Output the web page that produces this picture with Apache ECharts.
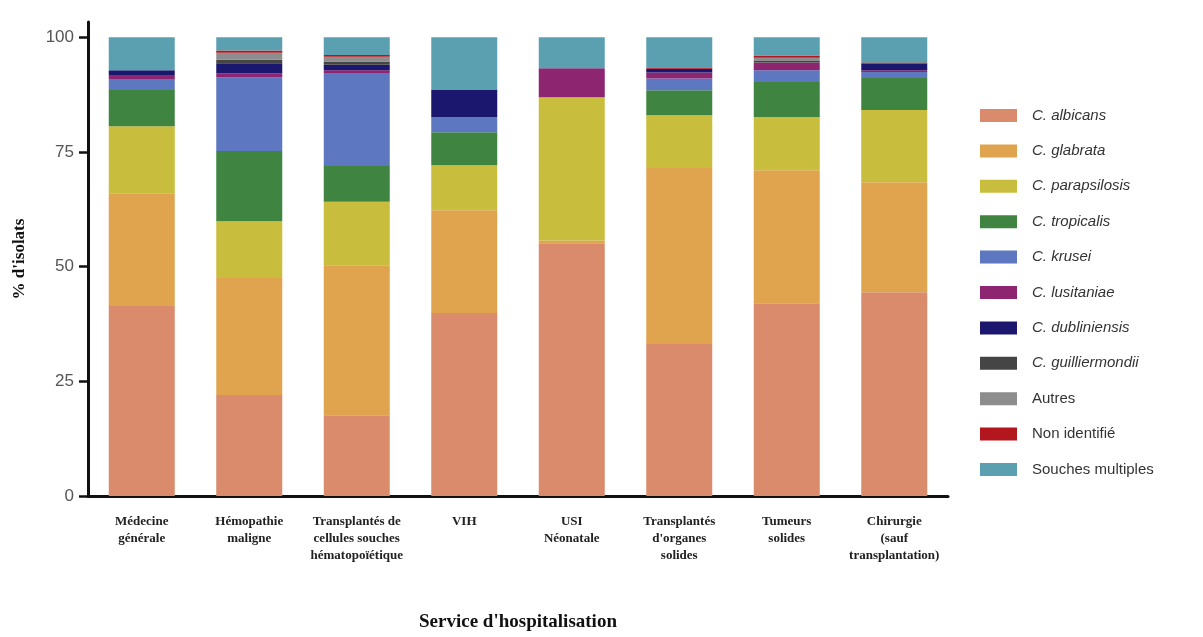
<!DOCTYPE html>
<html>
<head>
<meta charset="utf-8">
<script src="https://cdn.jsdelivr.net/npm/echarts@6/dist/echarts.min.js"></script>
<style>
  html, body { margin: 0; padding: 0; background: #fff; }
  #chart { width: 1203px; height: 637px; }
</style>
</head>
<body>
<div id="chart"></div>
<script>
// Services (x categories)
const categories = [
  'Médecine\ngénérale',
  'Hémopathie\nmaligne',
  'Transplantés de\ncellules souches\nhématopoïétique',
  'VIH',
  'USI\nNéonatale',
  "Transplantés\nd'organes\nsolides",
  'Tumeurs\nsolides',
  'Chirurgie\n(sauf\ntransplantation)'
];

// % of isolates per species, one value per service
const albicans       = [41.4, 22.0, 17.6, 39.9, 55.1, 33.1, 42.0, 44.4];
const glabrata       = [24.6, 25.5, 32.7, 22.4,  0.6, 38.4, 29.0, 24.0];
const parapsilosis   = [14.6, 12.4, 13.8,  9.8, 31.2, 11.5, 11.6, 15.7];
const tropicalis     = [ 7.9, 15.3,  7.8,  7.2,  0.0,  5.4,  7.6,  7.0];
const krusei         = [ 2.4, 16.0, 20.3,  3.3,  0.0,  2.6,  2.6,  1.3];
const lusitaniae     = [ 0.7,  0.9,  0.6,  0.0,  6.3,  1.3,  1.7,  0.4];
const dubliniensis   = [ 1.2,  2.2,  1.2,  5.9,  0.0,  0.8,  0.0,  1.5];
const guilliermondii = [ 0.0,  0.8,  0.7,  0.0,  0.0,  0.0,  0.3,  0.0];
const autres         = [ 0.0,  1.5,  1.0,  0.0,  0.0,  0.0,  0.7,  0.3];
const nonIdentifie   = [ 0.0,  0.5,  0.4,  0.0,  0.0,  0.2,  0.5,  0.0];
const souches        = [ 7.2,  2.9,  3.9, 11.5,  6.8,  6.7,  4.0,  5.4];

// Y axis tick labels
const yTicks = [0, 25, 50, 75, 100];

const seriesDefs = [
  { name: 'C. albicans',       data: albicans,       color: '#D98B6C', italic: true },
  { name: 'C. glabrata',       data: glabrata,       color: '#E1A44E', italic: true },
  { name: 'C. parapsilosis',   data: parapsilosis,   color: '#C8BD3D', italic: true },
  { name: 'C. tropicalis',     data: tropicalis,     color: '#3F8441', italic: true },
  { name: 'C. krusei',         data: krusei,         color: '#5D77C1', italic: true },
  { name: 'C. lusitaniae',     data: lusitaniae,     color: '#8D2570', italic: true },
  { name: 'C. dubliniensis',   data: dubliniensis,   color: '#1B176E', italic: true },
  { name: 'C. guilliermondii', data: guilliermondii, color: '#454545', italic: true },
  { name: 'Autres',            data: autres,         color: '#8D8D8D', italic: false },
  { name: 'Non identifié',     data: nonIdentifie,   color: '#B3161D', italic: false },
  { name: 'Souches multiples', data: souches,        color: '#5AA0B0', italic: false }
];

const chart = echarts.init(document.getElementById('chart'), null, { renderer: 'canvas' });

const serif = '"Liberation Serif", "DejaVu Serif", serif';
const sans = '"Liberation Sans", Arial, sans-serif';

chart.setOption({
  animation: false,
  backgroundColor: '#ffffff',
  grid: {
    left: 88, right: 255, top: 22, bottom: 141,
    containLabel: false,
    outerBoundsMode: 'none'
  },
  legend: {
    orient: 'vertical',
    left: 980,
    top: 108,
    padding: 0,
    icon: 'rect',
    itemWidth: 37,
    itemHeight: 13,
    itemGap: 20.4,
    selectedMode: false,
    textStyle: {
      fontFamily: sans,
      fontSize: 15,
      lineHeight: 15,
      color: '#333',
      padding: [0, 0, 0, 10]
    },
    data: seriesDefs.map(s => ({
      name: s.name,
      textStyle: { fontStyle: s.italic ? 'italic' : 'normal' }
    }))
  },
  xAxis: {
    type: 'category',
    data: categories,
    name: "Service d'hospitalisation",
    nameLocation: 'middle',
    nameGap: 117,
    nameTextStyle: { fontFamily: serif, fontWeight: 'bold', fontSize: 19, color: '#111' },
    axisLine: { lineStyle: { color: '#111', width: 3 } },
    axisTick: { alignWithLabel: true, length: 9, lineStyle: { color: '#111', width: 3 } },
    axisLabel: {
      interval: 0,
      margin: 17,
      fontFamily: serif,
      fontWeight: 'bold',
      fontSize: 13,
      lineHeight: 17,
      color: '#222'
    }
  },
  yAxis: {
    type: 'value',
    min: 0,
    max: 103.3,
    interval: 25,
    name: "% d'isolats",
    nameLocation: 'middle',
    nameGap: 60,
    nameRotate: 90,
    nameTextStyle: { fontFamily: serif, fontWeight: 'bold', fontSize: 17, color: '#111' },
    splitLine: { show: false },
    axisLine: { show: true, lineStyle: { color: '#111', width: 3 } },
    axisTick: {
      show: true,
      length: 9,
      customValues: yTicks,
      lineStyle: { color: '#111', width: 2.5 }
    },
    axisLabel: {
      margin: 14,
      customValues: yTicks,
      fontFamily: sans,
      fontSize: 17,
      color: '#555',
      formatter: v => (v % 25 === 0 ? String(v) : '')
    }
  },
  series: seriesDefs.map(s => ({
    name: s.name,
    type: 'bar',
    stack: 'total',
    barWidth: 66,
    data: s.data,
    itemStyle: { color: s.color },
    emphasis: { disabled: true }
  }))
});
</script>
</body>
</html>
